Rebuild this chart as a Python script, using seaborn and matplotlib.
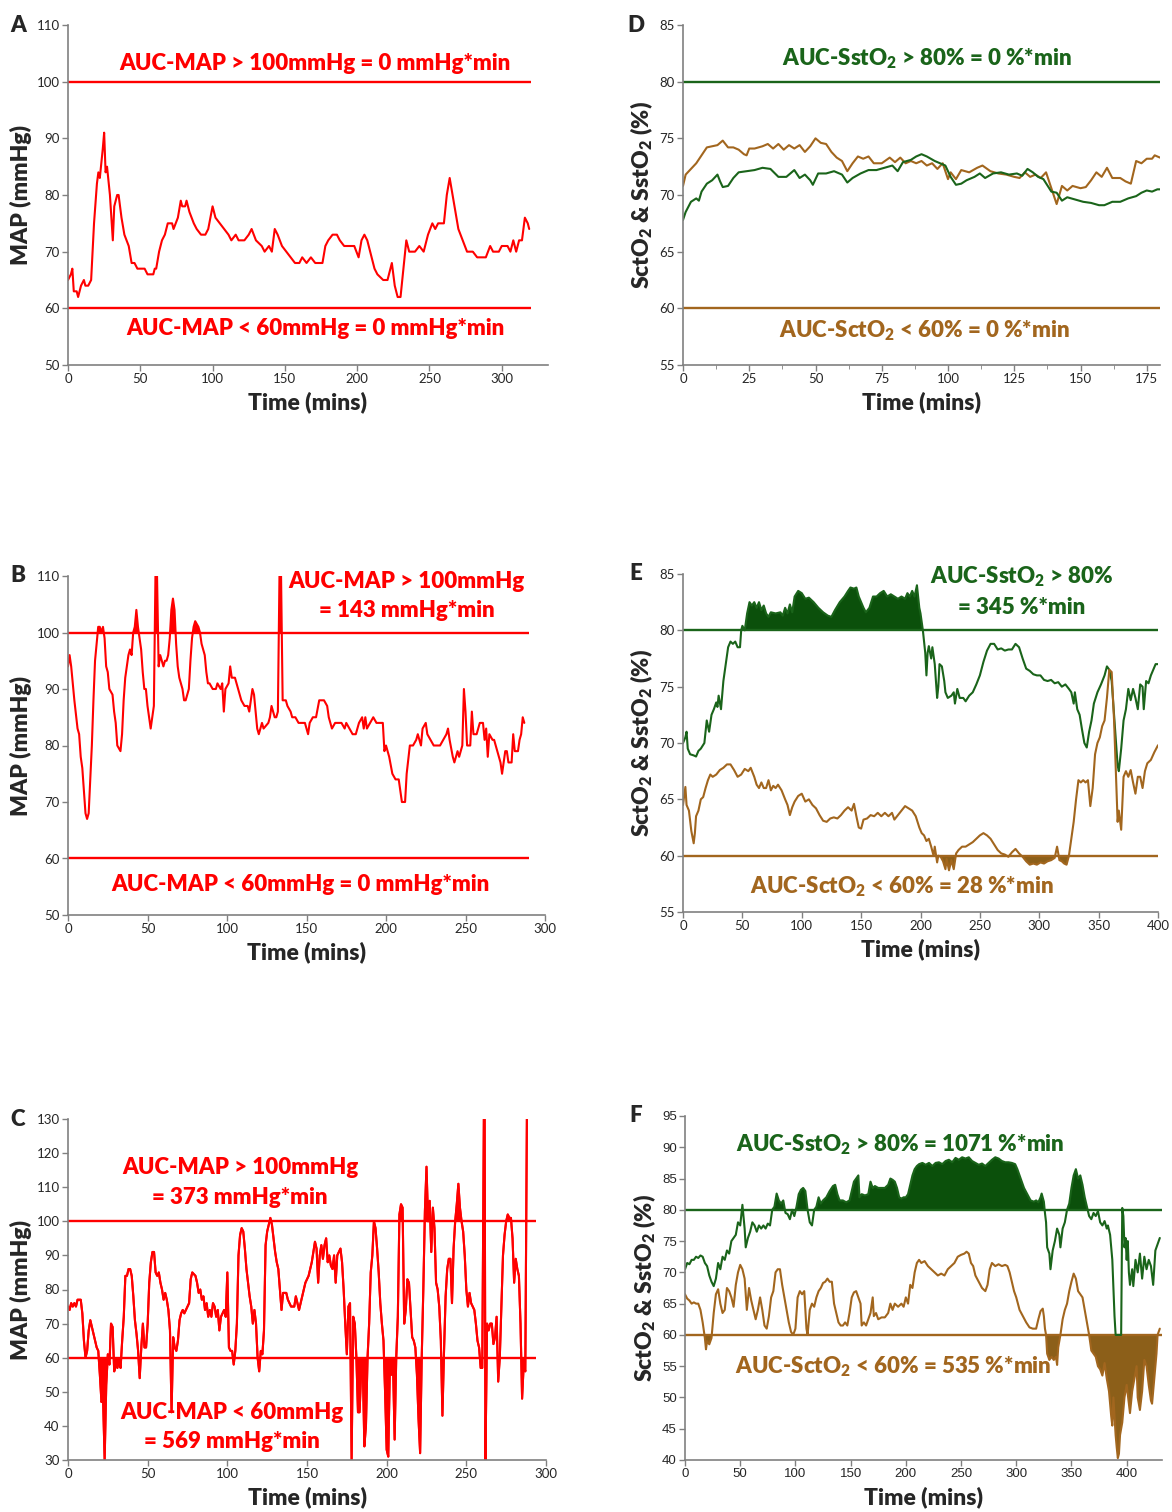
import matplotlib
matplotlib.use("Agg")
import matplotlib.pyplot as plt
import pandas as pd
import seaborn as sns

RED = "#ff0000"
GREEN = "#1a641a"
GREEN_FILL = "#0b500b"
BROWN = "#a2661e"
BROWN_FILL = "#8c5f19"
AXIS_GREY = "#808080"

# ---- data: (time in mins, value) ----
a_map = [(0,65),(2,66),(3,67),(4,63),(6,63),(7,62),(9,64),(11,65),(12,64),(14,64),(16,65),(18,75),(20,82),(21,84),(22,83),(24,88),(25,91),(26,84),(27,85),(29,80),(31,72),(32,78),(34,80),(35,80),(37,76),(39,73),(42,71),(44,68),(46,68),(48,67),(51,67),(53,67),(55,66),(59,66),(60,67),(61,67),(63,70),(65,72),(67,73),(69,75),(72,75),(73,74),(76,76),(78,79),(79,78),(81,78),(82,79),(84,77),(87,75),(89,74),(92,73),(95,73),(97,74),(100,78),(102,76),(105,75),(108,74),(111,73),(113,72),(116,73),(118,72),(122,72),(125,73),(127,74),(130,72),(134,71),(136,70),(139,71),(141,70),(143,74),(145,73),(148,71),(151,70),(154,69),(157,68),(160,68),(162,69),(165,68),(168,69),(171,68),(176,68),(178,71),(180,72),(183,73),(186,73),(188,72),(191,71),(198,71),(201,69),(203,72),(205,73),(207,72),(210,69),(212,67),(214,66),(218,65),(221,65),(224,68),(226,64),(228,62),(230,62),(232,67),(234,72),(236,70),(240,70),(243,71),(246,70),(249,73),(252,75),(254,74),(256,75),(260,75),(262,80),(264,83),(266,80),(268,77),(270,74),(273,72),(276,70),(280,70),(283,69),(289,69),(292,71),(294,70),(298,70),(300,71),(304,71),(306,70),(308,72),(310,70),(312,72),(314,72),(316,76),(318,75),(319,74)]

b_map = [(0,94),(1,96),(2,94),(4,88),(6,83),(7,82),(8,78),(9,76),(10,72),(11,68),(12,67),(13,68),(15,80),(16,88),(17,95),(18,98),(19,101),(20,101),(21,100),(22,101),(23,99),(24,94),(25,93),(26,90),(28,89),(29,86),(30,84),(31,80),(33,79),(34,82),(35,88),(36,92),(38,96),(39,97),(40,96),(41,100),(42,101),(43,104),(44,101),(46,97),(47,93),(48,90),(49,90),(50,87),(51,85),(52,83),(53,85),(54,87),(55,110),(56,110),(57,94),(58,96),(59,95),(60,94),(61,95),(62,95),(63,96),(64,99),(65,104),(66,106),(67,104),(68,98),(69,94),(70,92),(71,91),(72,90),(73,88),(74,88),(76,90),(77,95),(78,99),(79,101),(80,102),(82,101),(83,100),(84,98),(86,96),(87,93),(88,91),(89,91),(91,90),(93,90),(94,91),(96,90),(97,91),(98,86),(99,90),(101,91),(102,94),(103,92),(105,92),(107,90),(109,88),(111,87),(113,87),(114,86),(116,90),(117,89),(118,86),(119,83),(120,82),(121,83),(122,84),(123,83),(126,84),(127,85),(128,87),(129,86),(130,85),(131,85),(132,86),(133,110),(134,110),(135,88),(137,88),(138,87),(140,86),(141,85),(143,85),(145,84),(149,84),(151,82),(152,84),(154,85),(156,85),(158,88),(161,88),(163,87),(164,85),(166,83),(168,84),(172,84),(174,83),(175,84),(177,83),(179,82),(181,82),(183,84),(185,85),(186,83),(187,85),(188,83),(190,84),(192,85),(194,84),(198,84),(199,79),(200,80),(202,78),(204,75),(206,74),(208,74),(209,72),(210,70),(212,70),(213,75),(215,80),(217,80),(219,81),(220,82),(222,80),(223,83),(225,84),(226,82),(228,81),(230,80),(234,80),(236,81),(238,82),(239,83),(240,81),(242,78),(243,77),(245,79),(246,78),(248,80),(249,90),(250,86),(251,80),(253,80),(254,86),(255,82),(257,82),(259,84),(261,84),(262,81),(263,83),(264,78),(265,82),(267,81),(268,81),(270,79),(272,77),(273,75),(275,79),(276,79),(277,77),(279,77),(280,82),(281,79),(283,79),(284,81),(285,82),(286,85),(287,84)]

c_map = [(0,75),(1,74),(2,76),(3,75),(4,76),(5,75),(6,77),(8,77),(9,73),(10,65),(11,60),(12,62),(13,68),(14,71),(15,69),(17,65),(18,63),(19,62),(20,55),(21,47),(22,48),(23,30),(24,52),(25,61),(26,58),(27,70),(28,69),(29,56),(30,58),(31,57),(32,59),(33,57),(34,65),(35,72),(36,84),(37,84),(38,86),(39,86),(40,84),(41,78),(42,71),(43,67),(44,62),(45,54),(46,63),(47,70),(48,63),(49,63),(50,70),(51,82),(52,88),(53,91),(54,91),(55,85),(56,84),(57,85),(58,82),(59,80),(60,77),(61,79),(62,77),(63,74),(64,68),(65,44),(66,66),(67,63),(68,62),(69,65),(70,71),(71,73),(72,74),(73,73),(74,74),(76,76),(77,83),(78,85),(80,84),(81,82),(82,79),(83,80),(84,77),(85,78),(86,74),(87,76),(88,72),(89,74),(90,72),(91,76),(92,75),(93,72),(94,74),(95,68),(96,72),(97,73),(98,74),(99,72),(100,85),(101,63),(102,62),(103,62),(104,58),(105,62),(106,70),(107,90),(108,96),(109,98),(110,97),(111,92),(112,86),(113,82),(114,78),(115,75),(116,70),(117,74),(118,70),(119,60),(120,56),(121,62),(122,61),(123,68),(124,93),(125,97),(126,99),(127,101),(128,99),(129,95),(130,91),(131,88),(132,86),(133,80),(134,74),(135,79),(136,79),(137,79),(138,77),(140,75),(142,75),(143,78),(144,76),(145,74),(147,78),(149,82),(151,84),(153,88),(155,94),(156,92),(157,82),(158,90),(159,93),(160,89),(161,93),(162,95),(163,88),(164,90),(165,87),(166,86),(167,90),(168,82),(169,90),(170,91),(171,92),(172,88),(173,80),(174,70),(175,61),(176,75),(177,76),(178,30),(179,72),(180,70),(181,60),(182,44),(183,44),(184,56),(185,58),(186,34),(187,40),(188,60),(189,70),(190,85),(191,90),(192,100),(193,98),(194,92),(195,85),(196,76),(197,70),(198,65),(199,50),(200,33),(201,31),(202,57),(203,55),(204,58),(205,36),(206,60),(207,72),(208,102),(209,105),(210,104),(211,70),(212,74),(213,83),(214,82),(215,74),(216,66),(217,65),(218,63),(219,55),(220,42),(221,32),(222,60),(223,80),(224,103),(225,116),(226,100),(227,106),(228,91),(229,104),(230,98),(231,82),(232,80),(233,75),(234,65),(235,43),(236,62),(237,78),(238,86),(239,89),(240,89),(241,76),(242,92),(243,100),(244,105),(245,111),(246,104),(247,100),(248,97),(249,90),(250,80),(251,75),(252,79),(253,76),(254,75),(255,74),(256,70),(257,65),(258,63),(259,57),(260,57),(261,130),(261.5,130),(262,30),(263,70),(264,68),(265,70),(266,70),(267,64),(268,66),(269,72),(270,53),(271,60),(272,75),(273,90),(274,96),(275,100),(276,102),(277,101),(278,101),(279,95),(280,82),(281,89),(282,86),(283,84),(284,70),(285,48),(286,58),(287,56),(288,130)]

d_sct = [(0,70.8),(1,71.8),(3,72.3),(5,72.8),(7,73.5),(9,74.2),(11,74.3),(13,74.4),(15,74.8),(17,74.2),(19,74.2),(21,74.0),(23,73.6),(24,73.5),(25,74.1),(27,74.1),(30,74.3),(32,74.5),(34,74.1),(36,74.5),(38,74.0),(40,74.4),(42,74.1),(44,74.4),(46,73.8),(48,74.3),(50,75.0),(52,74.6),(54,74.5),(56,73.8),(58,73.3),(60,73.0),(62,72.1),(64,72.8),(66,73.4),(68,73.2),(70,73.4),(72,72.8),(75,72.8),(78,73.3),(80,72.9),(82,73.3),(84,72.8),(86,73.0),(88,72.8),(90,73.0),(92,72.6),(94,72.8),(96,72.3),(98,72.8),(100,71.4),(101,72.0),(103,71.4),(105,72.2),(108,72.0),(111,72.4),(113,72.6),(116,72.1),(119,71.9),(122,71.8),(125,71.6),(127,71.5),(129,72.0),(131,71.6),(133,71.8),(135,71.5),(137,72.0),(139,70.6),(141,69.2),(143,70.8),(145,70.4),(147,70.8),(150,70.6),(152,70.7),(154,71.3),(156,72.0),(158,71.6),(160,72.4),(162,71.5),(165,71.5),(167,71.2),(169,71.0),(171,73.0),(173,72.8),(175,73.2),(177,73.2),(178,73.5),(180,73.3)]

d_sst = [(0,67.8),(1,68.5),(3,69.4),(5,69.7),(6,69.5),(7,70.3),(9,71.0),(11,71.3),(13,71.8),(14,71.2),(15,70.7),(17,70.8),(19,71.5),(21,72.0),(24,72.1),(27,72.2),(30,72.4),(33,72.3),(36,71.6),(39,71.6),(42,72.2),(44,71.5),(46,71.8),(48,71.3),(49,70.9),(51,71.9),(54,71.9),(57,72.1),(60,71.8),(62,71.1),(64,71.5),(67,71.9),(70,72.2),(73,72.2),(76,72.4),(79,72.6),(81,72.1),(83,72.9),(86,73.1),(88,73.4),(90,73.6),(92,73.4),(95,73.0),(97,72.8),(99,72.6),(101,71.6),(103,70.9),(105,71.0),(107,71.3),(110,71.6),(112,71.9),(114,71.5),(117,71.9),(120,72.0),(123,71.8),(126,71.9),(128,71.7),(130,72.3),(132,72.0),(134,71.6),(136,71.4),(139,70.3),(141,70.2),(143,69.5),(145,69.8),(148,69.6),(151,69.4),(154,69.3),(157,69.1),(159,69.1),(162,69.4),(165,69.4),(168,69.7),(171,69.9),(173,70.2),(175,70.4),(177,70.3),(179,70.5),(180,70.5)]

e_sst = [(0,70.0),(2,70.5),(3,71.0),(4,69.5),(6,69.0),(9,68.9),(11,68.8),(13,69.3),(15,69.5),(18,70.0),(20,72.0),(22,71.0),(24,72.5),(26,73.0),(28,73.6),(29,73.2),(30,74.2),(32,73.0),(34,75.5),(36,77.0),(38,78.5),(40,79.0),(42,78.8),(44,79.0),(46,78.5),(48,78.5),(49,80.0),(50,80.4),(52,80.0),(54,81.5),(56,82.5),(58,82.2),(60,82.5),(62,82.0),(64,82.5),(66,81.8),(68,82.2),(70,81.5),(72,81.2),(74,81.6),(78,81.5),(82,81.6),(84,81.3),(86,82.0),(88,81.5),(90,82.3),(92,81.6),(94,83.0),(97,83.5),(100,83.3),(103,82.8),(106,82.9),(110,82.5),(114,82.0),(118,81.6),(122,81.3),(125,81.2),(128,81.8),(132,82.5),(136,83.0),(139,83.5),(141,83.8),(144,83.7),(146,83.8),(148,83.0),(150,82.5),(152,82.0),(154,81.6),(157,82.0),(160,83.0),(163,83.0),(166,83.3),(169,83.5),(172,83.0),(175,83.2),(178,83.0),(181,82.8),(184,83.0),(187,82.8),(189,83.3),(191,83.0),(193,83.5),(195,83.0),(197,84.0),(199,82.0),(200,81.5),(202,80.0),(204,78.0),(205,76.0),(206,78.0),(207,78.6),(209,77.5),(210,78.5),(212,77.0),(214,74.0),(215,75.0),(216,77.0),(218,76.8),(220,75.5),(221,74.5),(223,74.0),(226,74.2),(228,74.5),(229,73.5),(231,74.8),(233,74.0),(236,74.0),(238,73.7),(241,74.2),(244,74.5),(247,75.2),(250,76.0),(253,77.2),(256,78.2),(259,78.8),(262,78.8),(265,78.3),(268,78.4),(271,78.2),(274,78.3),(277,78.3),(280,78.8),(283,78.5),(286,77.5),(289,76.6),(292,76.4),(295,76.1),(298,76.0),(301,76.0),(304,75.6),(307,75.5),(310,75.6),(313,75.3),(316,75.4),(319,75.0),(322,75.2),(325,74.8),(327,74.5),(329,73.5),(330,74.5),(332,73.0),(334,72.5),(336,71.2),(338,70.0),(340,69.6),(342,71.0),(344,72.0),(346,73.5),(349,74.5),(352,75.2),(355,76.0),(357,76.8),(359,76.5),(361,75.5),(362,74.0),(364,71.0),(366,68.0),(367,67.5),(369,69.5),(371,72.0),(373,73.0),(375,74.8),(377,73.8),(379,74.8),(381,74.0),(383,73.0),(385,75.2),(387,75.0),(388,73.0),(390,75.5),(392,75.3),(394,76.0),(396,76.5),(398,77.0),(400,77.0)]

e_sct = [(0,64.5),(2,66.1),(3,64.5),(5,64.0),(7,62.2),(9,61.1),(10,62.0),(11,63.5),(13,64.0),(15,65.0),(17,65.2),(19,66.0),(21,66.7),(23,67.2),(25,67.0),(28,67.2),(31,67.6),(34,67.8),(37,68.1),(40,68.1),(43,67.6),(46,67.0),(49,67.2),(52,67.7),(55,67.5),(57,67.8),(60,67.0),(62,66.3),(64,66.0),(66,66.5),(68,66.0),(70,66.0),(72,66.7),(74,65.8),(76,66.2),(78,66.0),(80,66.3),(83,65.8),(86,65.0),(88,64.5),(90,63.6),(92,64.3),(94,64.8),(97,65.3),(100,65.5),(103,64.8),(106,65.0),(109,64.5),(112,64.2),(115,63.6),(118,63.1),(121,63.0),(124,63.3),(127,63.4),(130,63.3),(133,63.6),(136,64.0),(139,64.3),(142,64.0),(144,64.6),(146,63.5),(148,62.5),(150,62.4),(152,63.2),(155,63.3),(158,63.6),(161,63.5),(164,63.8),(167,63.5),(170,63.8),(173,63.5),(176,63.8),(178,63.2),(181,63.6),(184,64.0),(187,64.4),(190,64.2),(193,64.0),(196,63.5),(199,62.5),(201,62.0),(203,61.8),(205,61.3),(207,61.5),(209,60.8),(211,60.0),(212,60.8),(214,59.4),(215,60.0),(217,59.9),(219,59.5),(221,58.8),(222,59.7),(224,58.7),(226,59.6),(228,58.8),(230,60.2),(232,60.5),(235,60.8),(238,60.8),(241,61.0),(244,61.2),(247,61.5),(250,61.8),(253,62.0),(256,61.8),(259,61.5),(262,61.0),(265,60.5),(268,60.2),(271,60.1),(274,59.9),(277,60.3),(280,60.6),(283,60.2),(286,59.9),(289,59.5),(292,59.2),(295,59.3),(298,59.2),(301,59.4),(304,59.3),(307,59.5),(310,59.6),(313,59.8),(315,60.8),(317,59.6),(319,59.5),(321,59.3),(323,59.2),(325,60.0),(327,61.5),(329,63.0),(331,65.0),(333,66.7),(335,66.5),(337,66.7),(339,66.5),(341,66.7),(343,64.4),(345,66.0),(347,69.0),(349,70.0),(351,70.5),(353,71.5),(355,72.0),(357,74.0),(359,76.5),(361,76.3),(363,72.0),(365,66.0),(366,63.0),(367,64.0),(369,62.3),(371,67.0),(373,67.5),(375,67.0),(377,67.6),(379,66.5),(381,65.5),(383,67.0),(385,67.0),(387,66.0),(389,67.5),(391,68.2),(394,68.5),(397,69.2),(400,69.8)]

f_sst = [(0,70.5),(2,71.5),(4,71.3),(6,72.0),(8,72.0),(10,72.5),(12,72.3),(14,72.7),(16,72.5),(18,71.5),(20,71.0),(22,69.5),(24,68.5),(26,67.8),(28,69.0),(30,71.5),(32,70.5),(34,72.5),(36,72.0),(38,73.5),(40,73.0),(42,75.0),(44,75.5),(46,76.0),(48,78.0),(50,77.5),(52,80.8),(54,77.0),(55,74.0),(57,75.5),(59,76.5),(61,78.0),(63,77.5),(65,76.5),(67,77.5),(69,77.0),(71,77.5),(73,77.0),(75,77.8),(77,77.5),(79,80.0),(81,80.5),(83,82.6),(85,81.5),(87,81.0),(89,81.5),(91,79.5),(93,79.3),(95,78.5),(97,80.0),(99,79.0),(101,80.5),(103,82.5),(105,83.2),(107,83.5),(109,83.0),(111,80.0),(113,78.0),(115,77.5),(117,80.0),(119,80.5),(121,82.0),(123,81.0),(125,81.5),(128,82.0),(131,83.0),(134,83.8),(136,84.0),(138,82.5),(140,81.5),(143,81.5),(146,81.2),(149,81.5),(151,83.0),(153,84.5),(155,85.0),(157,85.5),(158,82.0),(160,82.5),(163,82.3),(166,82.5),(168,84.5),(170,83.5),(172,83.8),(175,83.5),(178,83.5),(181,83.5),(184,84.0),(186,85.0),(188,84.8),(190,84.5),(192,83.5),(194,82.0),(196,81.8),(198,82.0),(200,82.0),(202,82.5),(204,84.0),(206,85.5),(208,86.5),(210,87.0),(212,87.3),(215,87.5),(218,87.2),(221,87.5),(224,87.0),(227,87.5),(230,87.6),(233,87.3),(236,87.8),(239,88.0),(242,87.6),(245,88.3),(248,88.0),(251,88.4),(254,88.2),(257,88.4),(260,87.8),(263,87.5),(266,87.2),(269,87.4),(272,87.0),(275,87.5),(278,88.0),(281,88.4),(284,88.2),(287,87.8),(290,87.6),(293,87.6),(296,87.5),(299,87.3),(301,86.5),(303,85.5),(305,84.5),(307,83.5),(310,82.5),(313,81.5),(316,81.3),(318,81.5),(320,81.2),(322,82.0),(323,82.6),(325,81.3),(326,79.5),(327,78.0),(328,74.0),(330,73.0),(331,70.5),(333,73.5),(335,75.0),(337,77.0),(339,76.0),(340,74.0),(342,77.0),(344,78.0),(346,80.0),(348,81.0),(350,83.5),(352,85.5),(354,86.5),(356,85.0),(358,85.5),(360,84.0),(362,82.0),(364,80.5),(366,79.0),(368,78.5),(370,79.5),(372,79.0),(374,79.8),(376,78.0),(378,77.5),(380,78.2),(382,77.0),(383,77.5),(385,76.0),(387,72.0),(389,63.0),(390,60.0),(395,60.0),(396,80.3),(397,79.0),(398,74.0),(399,75.5),(400,72.0),(401,75.0),(402,70.0),(403,68.0),(405,70.5),(406,67.8),(408,72.0),(410,70.0),(412,73.0),(414,69.0),(416,72.5),(418,70.5),(420,72.0),(422,71.0),(424,68.0),(426,73.5),(428,74.5),(430,75.5)]

f_sct = [(0,66.5),(2,65.8),(4,65.5),(6,65.0),(8,65.2),(10,65.0),(12,65.0),(14,64.0),(16,62.0),(18,59.5),(19,57.7),(20,59.0),(22,58.5),(24,59.5),(26,63.5),(28,66.5),(30,67.3),(32,65.0),(34,63.5),(36,64.0),(38,67.5),(40,67.0),(42,66.0),(44,64.5),(46,68.0),(48,70.0),(50,71.2),(52,70.5),(54,69.0),(56,64.0),(58,67.5),(60,65.5),(62,64.0),(64,62.5),(66,64.0),(68,66.0),(70,64.0),(72,61.5),(74,61.0),(76,63.0),(78,66.0),(80,67.0),(82,70.0),(84,70.5),(86,70.5),(88,68.0),(90,66.0),(92,64.0),(94,62.0),(96,60.5),(98,60.0),(100,61.0),(102,66.0),(104,67.0),(106,66.5),(108,67.0),(110,61.0),(111,60.0),(113,64.0),(115,65.0),(117,64.5),(119,66.0),(121,67.0),(123,67.5),(125,68.3),(127,68.5),(129,69.0),(131,68.5),(133,68.5),(135,65.0),(137,63.5),(139,62.0),(141,61.5),(143,61.5),(145,62.0),(147,61.5),(149,63.5),(151,66.0),(153,66.8),(155,67.0),(157,66.0),(159,65.0),(160,61.5),(162,62.0),(164,61.5),(166,62.5),(168,63.5),(170,66.0),(171,63.0),(173,63.5),(175,62.5),(178,62.8),(181,62.8),(184,63.5),(186,65.0),(188,64.0),(190,65.0),(193,64.5),(196,65.0),(198,64.5),(200,66.0),(202,65.0),(204,68.0),(206,67.5),(208,70.0),(210,71.5),(212,72.0),(214,71.5),(217,71.8),(220,71.0),(223,70.5),(226,70.0),(229,69.5),(232,69.8),(235,69.5),(238,70.5),(241,71.0),(244,71.5),(247,72.5),(250,72.8),(253,73.0),(255,73.3),(257,73.0),(259,71.5),(261,71.0),(263,69.5),(266,68.5),(269,67.5),(272,67.0),(274,68.0),(276,70.5),(278,71.5),(281,71.0),(284,71.3),(287,71.0),(290,71.2),(292,71.0),(294,70.0),(296,68.5),(298,67.0),(300,66.0),(303,64.0),(306,63.0),(309,62.0),(312,61.2),(315,61.0),(318,61.0),(320,62.5),(322,63.8),(324,64.2),(325,63.0),(326,61.0),(327,60.0),(328,57.0),(330,56.0),(332,56.5),(334,56.0),(336,56.5),(337,55.2),(338,58.0),(340,60.0),(342,62.5),(344,64.0),(346,65.0),(348,67.0),(350,68.5),(352,69.8),(354,69.0),(356,67.0),(358,66.5),(360,66.0),(362,64.0),(364,62.0),(366,60.0),(368,57.5),(370,57.0),(372,56.5),(374,55.0),(376,54.5),(378,53.5),(380,55.5),(382,53.0),(384,51.0),(386,47.0),(387,45.5),(388,50.0),(389,47.0),(390,44.0),(391,42.0),(392,40.3),(393,41.0),(394,44.0),(396,46.0),(398,50.0),(400,52.0),(402,49.0),(403,47.5),(405,51.0),(407,53.0),(409,55.0),(410,50.0),(412,48.0),(414,51.0),(416,56.0),(418,55.0),(420,52.0),(422,49.5),(423,49.0),(425,53.0),(427,57.0),(428,60.0),(430,61.0)]

# thresholds and how far the reference lines run (mins)
MAP_HIGH, MAP_LOW = 100, 60
O2_HIGH, O2_LOW = 80, 60
threshold_end = {"A": 320, "B": 290, "C": 294, "D": 180, "E": 400, "F": 432}

W, H = 1172, 1512
# panel boxes in pixels: left, top, right, bottom
boxes = {
    "A": (68, 25, 548, 365), "D": (683, 25, 1160, 365),
    "B": (68, 576, 545, 915), "E": (683, 574, 1158, 912),
    "C": (68, 1119, 546, 1460), "F": (685, 1116, 1162, 1460),
}

sns.set_style("ticks")
plt.rcParams["font.family"] = ["Lato", "DejaVu Sans"]
plt.rcParams["mathtext.fontset"] = "custom"
plt.rcParams["mathtext.rm"] = "Lato"
plt.rcParams["mathtext.bf"] = "Lato:heavy"

O2_LABEL = r"SctO$_\mathbf{2}$ & SstO$_\mathbf{2}$ (%)"
HEAVY = 800


def make_axes(fig, key):
    l, t, r, b = boxes[key]
    ax = fig.add_axes([l / W, 1 - b / H, (r - l) / W, (b - t) / H])
    fig.text((18 if key in "ABC" else 636) / W, 1 - (t) / H, key,
             fontsize=16, fontweight=HEAVY, ha="center", va="center")
    return ax


def style_axis(ax, xlim, ylim, xstep, ystep, ylabel, tickfont="Lato"):
    ax.set_xlim(*xlim)
    ax.set_ylim(*ylim)
    ax.set_xticks(range(xlim[0], int(xlim[1]) + 1, xstep))
    ax.set_yticks(range(ylim[0], ylim[1] + 1, ystep))
    for side in ("top", "right"):
        ax.spines[side].set_visible(False)
    for side in ("left", "bottom"):
        ax.spines[side].set_color(AXIS_GREY)
        ax.spines[side].set_linewidth(1.2)
    ax.tick_params(direction="out", length=4, width=1, color=AXIS_GREY,
                   labelsize=9.5, pad=2)
    for lab in ax.get_xticklabels() + ax.get_yticklabels():
        lab.set_family(tickfont)
    ax.set_xlabel("Time (mins)", fontsize=16.5, fontweight=HEAVY, labelpad=4)
    ax.set_ylabel(ylabel, fontsize=16.5, fontweight=HEAVY, labelpad=3)


def draw_trace(ax, pairs, color, above=None, below=None, fill=None):
    df = pd.DataFrame(pairs, columns=["time", "value"])
    sns.lineplot(data=df, x="time", y="value", color=color, linewidth=1.5,
                 estimator=None, sort=False, ax=ax)
    if above is not None:
        ax.fill_between(df["time"], df["value"], above, where=df["value"] > above,
                        interpolate=True, color=fill, linewidth=0)
    if below is not None:
        ax.fill_between(df["time"], df["value"], below, where=df["value"] < below,
                        interpolate=True, color=fill, linewidth=0)


def threshold(ax, key, level, color):
    ax.hlines(level, 0, threshold_end[key], color=color, linewidth=1.7)


def note(ax, x, y, s, color):
    ax.text(x, y, s, color=color, fontsize=16, fontweight=HEAVY,
            ha="center", va="center")


fig = plt.figure(figsize=(W / 100, H / 100), dpi=100)

# A
ax = make_axes(fig, "A")
threshold(ax, "A", MAP_HIGH, RED)
threshold(ax, "A", MAP_LOW, RED)
draw_trace(ax, a_map, RED)
style_axis(ax, (0, 332), (50, 110), 50, 10, "MAP (mmHg)")
note(ax, 171, 103.2, "AUC-MAP > 100mmHg = 0 mmHg*min", RED)
note(ax, 171, 56.5, "AUC-MAP < 60mmHg = 0 mmHg*min", RED)

# B
ax = make_axes(fig, "B")
threshold(ax, "B", MAP_HIGH, RED)
threshold(ax, "B", MAP_LOW, RED)
draw_trace(ax, b_map, RED, above=MAP_HIGH, fill=RED)
style_axis(ax, (0, 300), (50, 110), 50, 10, "MAP (mmHg)")
note(ax, 213, 109.0, "AUC-MAP > 100mmHg", RED)
note(ax, 213, 103.9, "= 143 mmHg*min", RED)
note(ax, 146, 55.4, "AUC-MAP < 60mmHg = 0 mmHg*min", RED)

# C
ax = make_axes(fig, "C")
threshold(ax, "C", MAP_HIGH, RED)
threshold(ax, "C", MAP_LOW, RED)
draw_trace(ax, c_map, RED, above=MAP_HIGH, fill=RED)
draw_trace(ax, c_map, RED, below=MAP_LOW, fill=RED)
style_axis(ax, (0, 300), (30, 130), 50, 10, "MAP (mmHg)")
note(ax, 108, 115.8, "AUC-MAP > 100mmHg", RED)
note(ax, 108, 107.0, "= 373 mmHg*min", RED)
note(ax, 103, 43.9, "AUC-MAP < 60mmHg", RED)
note(ax, 103, 35.4, "= 569 mmHg*min", RED)

# D
ax = make_axes(fig, "D")
threshold(ax, "D", O2_HIGH, GREEN)
threshold(ax, "D", O2_LOW, BROWN)
draw_trace(ax, d_sct, BROWN)
draw_trace(ax, d_sst, GREEN)
style_axis(ax, (0, 180), (55, 85), 25, 5, O2_LABEL)
ax.set_xticks([12.5 + 25 * i for i in range(7)], minor=True)
ax.tick_params(which="minor", direction="out", length=3, color=AXIS_GREY)
note(ax, 92, 82.0, r"AUC-SstO$_\mathbf{2}$ > 80% = 0 %*min", GREEN)
note(ax, 91, 58.0, r"AUC-SctO$_\mathbf{2}$ < 60% = 0 %*min", BROWN)

# E
ax = make_axes(fig, "E")
threshold(ax, "E", O2_HIGH, GREEN)
threshold(ax, "E", O2_LOW, BROWN)
draw_trace(ax, e_sst, GREEN, above=O2_HIGH, fill=GREEN_FILL)
draw_trace(ax, e_sct, BROWN, below=O2_LOW, fill=BROWN_FILL)
style_axis(ax, (0, 400), (55, 85), 50, 5, O2_LABEL)
note(ax, 285, 84.8, r"AUC-SstO$_\mathbf{2}$ > 80%", GREEN)
note(ax, 285, 82.0, "= 345 %*min", GREEN)
note(ax, 184, 57.25, r"AUC-SctO$_\mathbf{2}$ < 60% = 28 %*min", BROWN)

# F
ax = make_axes(fig, "F")
threshold(ax, "F", O2_HIGH, GREEN)
threshold(ax, "F", O2_LOW, BROWN)
draw_trace(ax, f_sst, GREEN, above=O2_HIGH, fill=GREEN_FILL)
draw_trace(ax, f_sct, BROWN, below=O2_LOW, fill=BROWN_FILL)
style_axis(ax, (0, 432), (40, 95), 50, 5, O2_LABEL, tickfont="Liberation Sans")
note(ax, 195, 90.4, r"AUC-SstO$_\mathbf{2}$ > 80% = 1071 %*min", GREEN)
note(ax, 189, 54.9, r"AUC-SctO$_\mathbf{2}$ < 60% = 535 %*min", BROWN)

fig.savefig("out.png", dpi=100)
